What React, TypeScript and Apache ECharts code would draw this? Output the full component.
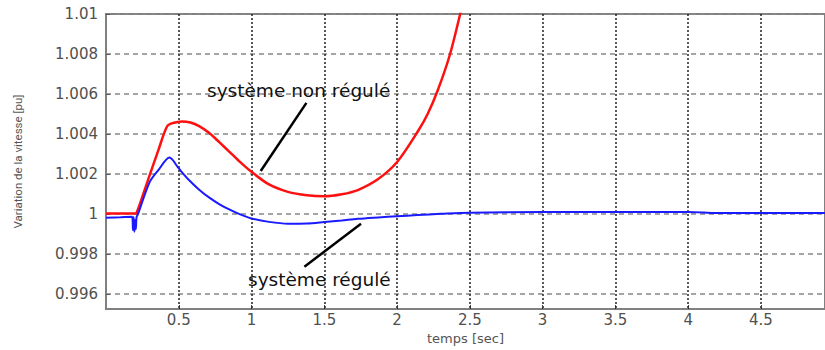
import React, { useEffect, useRef } from "react";
import * as echarts from "echarts";

const redTime = [0, 0.1, 0.2, 0.21, 0.3, 0.36, 0.42, 0.46, 0.52, 0.58, 0.64, 0.71, 0.78, 0.85, 0.91, 1.0, 1.12, 1.25, 1.38, 1.5, 1.62, 1.73, 1.87, 2.0, 2.14, 2.21, 2.28, 2.36, 2.43, 2.5];
const redValues = [1.00003, 1.00003, 1.00003, 1.00005, 1.00195, 1.0032, 1.00439, 1.00455, 1.00463, 1.00458, 1.0044, 1.00405, 1.00358, 1.0031, 1.00268, 1.00211, 1.00148, 1.00111, 1.00094, 1.00089, 1.00099, 1.0012, 1.00175, 1.0026, 1.0041, 1.005, 1.0062, 1.0079, 1.0099, 1.0122];

const blueTime = [0, 0.1, 0.18, 0.185, 0.19, 0.195, 0.2, 0.205, 0.21, 0.22, 0.3, 0.36, 0.436, 0.5, 0.57, 0.64, 0.71, 0.78, 0.85, 0.91, 1.0, 1.12, 1.25, 1.38, 1.5, 1.62, 1.73, 1.87, 2.0, 2.14, 2.3, 2.5, 3.0, 3.5, 4.0, 4.2, 4.5, 4.94];
const blueValues = [0.99982, 0.99984, 0.99986, 0.9992, 0.99985, 0.99912, 0.9997, 0.99925, 0.99985, 1.0, 1.0016, 1.0022, 1.00283, 1.00228, 1.0017, 1.00122, 1.00082, 1.00049, 1.00022, 1.00002, 0.99978, 0.99961, 0.99952, 0.99953, 0.9996, 0.99968, 0.99976, 0.99983, 0.99989, 0.99995, 1.00001, 1.00007, 1.0001, 1.0001, 1.0001, 1.00005, 1.00005, 1.00005];

const xTicks = [0.5, 1, 1.5, 2, 2.5, 3, 3.5, 4, 4.5];
const yTicks = [0.996, 0.998, 1, 1.002, 1.004, 1.006, 1.008, 1.01];
const yTickLabels = ["0.996", "0.998", "1", "1.002", "1.004", "1.006", "1.008", "1.01"];

const labelNonRegule = "système non régulé";
const labelRegule = "système régulé";
const pointerNonRegule: [number, number][] = [[1.063, 1.00215], [1.377, 1.00556]];
const pointerRegule: [number, number][] = [[1.363, 0.99737], [1.752, 0.99951]];

export default function App() {
  const ref = useRef<HTMLDivElement>(null);
  useEffect(() => {
    if (!ref.current) return;
    const chart = echarts.init(ref.current, null, { renderer: "svg" });
    const tickFont = { color: "#505050", fontSize: 15, fontFamily: "DejaVu Sans" };
    chart.setOption({
      animation: false,
      backgroundColor: "#fff",
      grid: {
        left: 106,
        top: 14,
        right: -3,
        bottom: 33,
        show: true,
        borderColor: "#808080",
        borderWidth: 2,
      },
      xAxis: {
        type: "value",
        min: 0,
        max: 4.94,
        name: "temps [sec]",
        nameLocation: "middle",
        nameGap: 22,
        nameTextStyle: { color: "#555", fontSize: 13, fontFamily: "DejaVu Sans" },
        axisLine: { show: true, onZero: false, lineStyle: { color: "#808080", width: 2 } },
        axisTick: { show: true, inside: true, length: 4, customValues: xTicks, lineStyle: { color: "#333" } },
        axisLabel: {
          ...tickFont,
          margin: 3,
          customValues: xTicks,
          formatter: (v: number) => String(v),
        },
        splitLine: { show: true, lineStyle: { color: "#222", type: [2, 2], width: 1.5 } },
      },
      yAxis: {
        type: "value",
        min: 0.99525,
        max: 1.01,
        name: "Variation de la vitesse [pu]",
        nameLocation: "middle",
        nameGap: 82,
        nameRotate: 90,
        nameTextStyle: { color: "#555", fontSize: 11.5, fontFamily: "Roboto" },
        axisLine: { show: true, lineStyle: { color: "#808080", width: 2 } },
        axisTick: { show: true, inside: true, length: 4, customValues: yTicks, lineStyle: { color: "#555" } },
        axisLabel: {
          ...tickFont,
          margin: 8,
          customValues: yTicks,
          formatter: (v: number) => {
            let best = 0;
            for (let i = 0; i < yTicks.length; i++) {
              if (Math.abs(yTicks[i] - v) < Math.abs(yTicks[best] - v)) best = i;
            }
            return yTickLabels[best];
          },
        },
        splitLine: { show: true, lineStyle: { color: "#888", type: [5, 4], width: 1.5 } },
      },
      series: [
        {
          type: "line",
          name: "régulé",
          data: blueTime.map((t, i) => [t, blueValues[i]]),
          showSymbol: false,
          symbol: "none",
          smooth: 0.3,
          clip: true,
          lineStyle: { color: "#1a1aff", width: 2 },
          z: 3,
        },
        {
          type: "line",
          name: "non régulé",
          data: redTime.map((t, i) => [t, redValues[i]]),
          showSymbol: false,
          symbol: "none",
          smooth: 0.3,
          clip: true,
          lineStyle: { color: "#ff1010", width: 2.5 },
          z: 2,
          markLine: {
            silent: true,
            symbol: ["none", "none"],
            label: { show: false },
            lineStyle: { color: "#000", width: 2.5, type: "solid" },
            data: [
              [{ coord: pointerNonRegule[0] }, { coord: pointerNonRegule[1] }],
              [{ coord: pointerRegule[0] }, { coord: pointerRegule[1] }],
            ],
          },
        },
      ],
      graphic: [
        {
          type: "text",
          left: 207,
          top: 81,
          style: {
            text: labelNonRegule,
            fill: "#111",
            fontSize: 18.5,
            fontFamily: "DejaVu Sans",
          },
          z: 10,
        },
        {
          type: "text",
          left: 248,
          top: 270,
          style: {
            text: labelRegule,
            fill: "#111",
            fontSize: 18.5,
            fontFamily: "DejaVu Sans",
          },
          z: 10,
        },
      ],
    });
    return () => chart.dispose();
  }, []);
  return <div ref={ref} style={{ width: 825, height: 350, position: "absolute", left: 0, top: 0 }} />;
}
